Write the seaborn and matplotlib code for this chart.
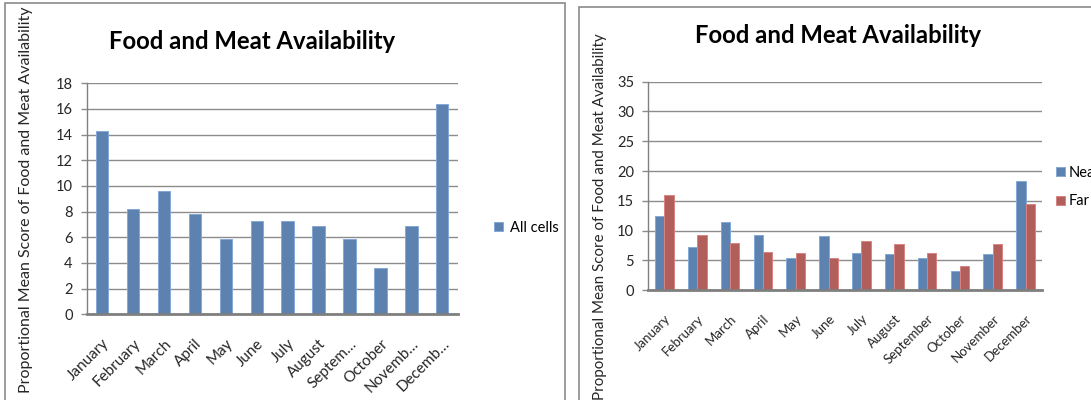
import matplotlib
matplotlib.use("Agg")
import matplotlib.pyplot as plt
from matplotlib.patches import Rectangle
import pandas as pd
import seaborn as sns

# Monthly scores
months = ["January", "February", "March", "April", "May", "June", "July",
          "August", "September", "October", "November", "December"]
left_tick_labels = ["January", "February", "March", "April", "May", "June", "July",
                    "August", "Septem…", "October", "Novemb…", "Decemb…"]
all_cells = [14.3, 8.2, 9.6, 7.8, 5.9, 7.3, 7.3, 6.9, 5.9, 3.6, 6.9, 16.4]
near = [12.5, 7.2, 11.4, 9.3, 5.5, 9.1, 6.3, 6.1, 5.5, 3.3, 6.1, 18.3]
far = [16.0, 9.3, 7.9, 6.4, 6.3, 5.5, 8.3, 7.8, 6.3, 4.0, 7.8, 14.5]
series_names = ["Near", "Far"]

title = "Food and Meat Availability"
ylabel = "Proportional Mean Score of Food and Meat Availability"

BLUE = "#4F81BD"
RED = "#C0504D"
GRID = "#8C8C8C"
AXIS = "#808080"

sns.set_theme(style="white")
plt.rcParams["font.family"] = ["Lato", "DejaVu Sans"]
plt.rcParams["text.color"] = "#000000"

W, H = 1091, 400
fig = plt.figure(figsize=(W / 100, H / 100), dpi=100)
fig.patch.set_facecolor("white")


def fx(px):
    return px / W


def fy(py):
    return 1 - py / H


# chart frames
fig.patches.append(Rectangle((fx(5), fy(420)), fx(560), fy(3) - fy(420),
                             transform=fig.transFigure, fill=False,
                             edgecolor="#8A8A8A", linewidth=1.2))
fig.patches.append(Rectangle((fx(579), fy(420)), fx(560), fy(7) - fy(420),
                             transform=fig.transFigure, fill=False,
                             edgecolor="#8A8A8A", linewidth=1.2))


def style_axes(ax, ymax, step):
    ax.set_ylim(0, ymax)
    ax.set_yticks(range(0, ymax + 1, step))
    ax.set_xlim(-0.5, len(months) - 0.5)
    ax.yaxis.grid(True, color=GRID, linewidth=1.0)
    ax.set_axisbelow(True)
    for s in ("top", "right"):
        ax.spines[s].set_visible(False)
    ax.spines["left"].set_color(AXIS)
    ax.spines["left"].set_linewidth(1.0)
    ax.spines["bottom"].set_color("#7F7F7F")
    ax.spines["bottom"].set_linewidth(2.0)
    ax.tick_params(axis="y", which="major", left=True, length=4, width=1,
                   color=GRID, pad=6)
    ax.set_xlabel("")


def shade_edges(ax):
    for patch in ax.patches:
        fc = patch.get_facecolor()
        patch.set_edgecolor(tuple(min(c + 0.15, 1) for c in fc[:3]))
        patch.set_linewidth(0.7)


# ---- left chart: all cells ----
ax1 = fig.add_axes([fx(86.7), fy(314.3), fx(371), 231 / H])
df1 = pd.DataFrame({"Month": months, "Score": all_cells, "Group": "All cells"})
sns.barplot(data=df1, x="Month", y="Score", hue="Group", palette=[BLUE],
            width=0.4, ax=ax1)
shade_edges(ax1)
style_axes(ax1, 18, 2)
ax1.set_xticks(range(len(months)))
ax1.set_xticklabels(left_tick_labels, rotation=45, ha="right", va="top",
                    rotation_mode="anchor", fontsize=11)
ax1.tick_params(axis="x", bottom=False, length=0, pad=16)
ax1.tick_params(axis="y", labelsize=10.5)
ax1.set_ylabel(ylabel, fontsize=11.5, va="center")
ax1.yaxis.set_label_coords((26.5 - 86.7) / 371, (314.3 - 200) / 231)
fig.text(fx(252.5), fy(49), title, ha="center", va="baseline",
         fontsize=17.2, fontweight="bold")
ax1.legend(loc="center left", bbox_to_anchor=(fx(488), fy(228)),
           bbox_transform=fig.transFigure, frameon=False, fontsize=10.5,
           handlelength=0.6, handleheight=0.6, handletextpad=0.5,
           borderaxespad=0)

# ---- right chart: near vs far ----
ax2 = fig.add_axes([fx(648), fy(290.3), fx(394), 208.7 / H])
df2 = pd.DataFrame({
    "Month": months * 2,
    "Score": near + far,
    "Site": [series_names[0]] * len(months) + [series_names[1]] * len(months),
})
sns.barplot(data=df2, x="Month", y="Score", hue="Site", hue_order=series_names,
            palette=[BLUE, RED], width=0.57, gap=0, ax=ax2)
shade_edges(ax2)
style_axes(ax2, 35, 5)
ax2.set_xticks(range(len(months)))
ax2.set_xticklabels(months, rotation=45, ha="right", va="top",
                    rotation_mode="anchor", fontsize=9.5)
ax2.tick_params(axis="x", bottom=False, length=0, pad=16)
ax2.tick_params(axis="y", labelsize=10.5)
ax2.set_ylabel(ylabel, fontsize=10.9, va="center")
ax2.yaxis.set_label_coords((600 - 648) / 394, (290.3 - 216.5) / 208.7)
fig.text(fx(838), fy(42.7), title, ha="center", va="baseline",
         fontsize=17.2, fontweight="bold")
ax2.legend(loc="center left", bbox_to_anchor=(fx(1056), fy(187)),
           bbox_transform=fig.transFigure, frameon=False, fontsize=10.5,
           handlelength=0.6, handleheight=0.6, handletextpad=0.3,
           labelspacing=1.0, borderaxespad=0, borderpad=0)

fig.savefig("out.png", dpi=100)
